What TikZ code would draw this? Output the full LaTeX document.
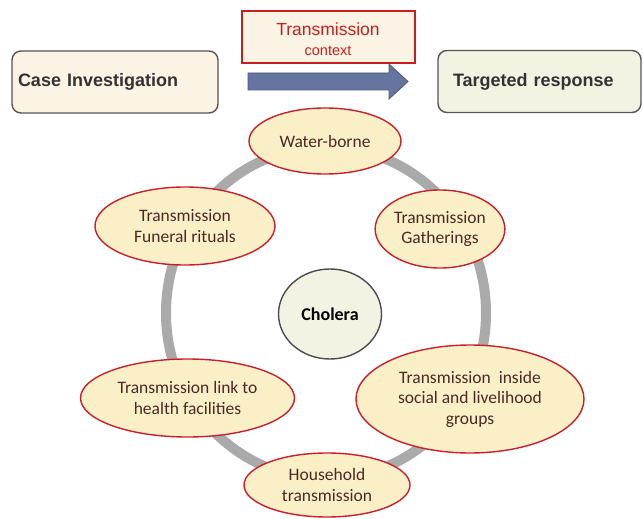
\documentclass[tikz,border=0pt]{standalone}
\usepackage{fontspec}
\setmainfont{Liberation Sans}
\newfontfamily\calib{Carlito}
\usetikzlibrary{shapes.geometric}
\definecolor{cream}{HTML}{FBF3E3}
\definecolor{greencream}{HTML}{F3F3E3}
\definecolor{ovalfill}{HTML}{FBEFC8}
\definecolor{ovaledge}{HTML}{C8202A}
\definecolor{ovaltext}{HTML}{4A2A24}
\definecolor{boxedge}{HTML}{555555}
\definecolor{ringgray}{HTML}{AAAAAA}
\definecolor{arrowblue}{HTML}{6674A0}
\definecolor{ctxred}{HTML}{C81E1E}
\tikzset{
  stagebox/.style={draw=boxedge, line width=1.4pt, rounded corners=9pt, minimum height=62pt,
    font=\bfseries\fontsize{18}{20}\selectfont, text=black!80, align=left},
  oval/.style={ellipse, draw=ovaledge, line width=1.4pt, fill=ovalfill, inner sep=0pt,
    align=center, text=ovaltext, font=\calib\fontsize{17.5}{20.5}\selectfont},
}
\begin{document}
\begin{tikzpicture}[x=1pt,y=-1pt]
\useasboundingbox (0,0) rectangle (643,519);

% top row: stages and the arrow between them
\node[stagebox, fill=cream, minimum width=206pt, inner xsep=6pt, text width=194pt]
  (case) at (115,82) {Case Investigation};
\node[stagebox, fill=greencream, minimum width=203pt, inner xsep=15pt, text width=173pt]
  (resp) at (539.5,81.5) {Targeted response};
\filldraw[fill=arrowblue, draw=arrowblue!75!black, line width=0.8pt]
  (248,73) -- (389,73) -- (389,64) -- (408,81.5) -- (389,99) -- (389,90) -- (248,90) -- cycle;
\node[draw=ctxred, line width=1.4pt, fill=cream, minimum width=173pt, minimum height=52pt,
  inner sep=0pt] (ctx) at (328.5,37) {};
\node[text=ctxred, font=\fontsize{17.5}{20}\selectfont, anchor=base] at (328,36) {Transmission};
\node[text=ctxred, font=\fontsize{14.5}{17}\selectfont, anchor=base] at (328,56) {context};

% ring behind the ovals
\draw[ringgray, line width=10pt] (326,313) ellipse (160pt and 166pt);

% centre
\node[ellipse, draw=black!70, line width=1.4pt, fill=greencream, minimum width=103pt,
  minimum height=90pt, inner sep=0pt, font=\calib\bfseries\fontsize{18}{20}\selectfont]
  (chol) at (330,314) {Cholera};

% transmission routes around the ring
\node[oval, minimum width=152pt, minimum height=66pt] (water) at (325,141) {Water-borne};
\node[oval, minimum width=124pt, minimum height=78pt] (gath) at (440,229) {Transmission\\Gatherings};
\node[oval, minimum width=180pt, minimum height=78pt] (fun) at (185,226) {Transmission\\Funeral rituals};
\node[oval, minimum width=214pt, minimum height=78pt] (health) at (187.5,398) {Transmission link to\\health facilities};
\node[oval, minimum width=228pt, minimum height=108pt] (social) at (470,399) {Transmission\ \ inside\\social and livelihood\\groups};
\node[oval, minimum width=166pt, minimum height=64pt] (house) at (327,485) {Household\\transmission};
\end{tikzpicture}
\end{document}
